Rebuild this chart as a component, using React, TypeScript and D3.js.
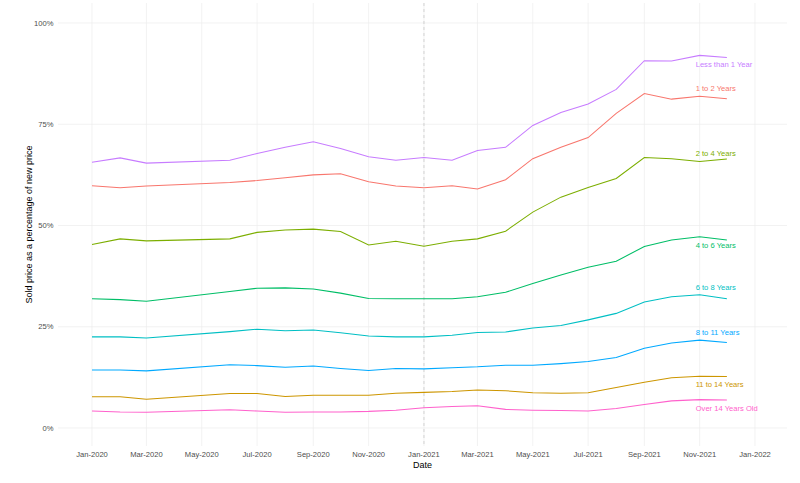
import React from "react";
import * as d3 from "d3";

const months = ["2020-01","2020-02","2020-03","2020-06","2020-07","2020-08","2020-09","2020-10","2020-11","2020-12","2021-01","2021-02","2021-03","2021-04","2021-05","2021-06","2021-07","2021-08","2021-09","2021-10","2021-11","2021-12"];

const seriesNames = ["Less than 1 Year","1 to 2 Years","2 to 4 Years","4 to 6 Years","6 to 8 Years","8 to 11 Years","11 to 14 Years","Over 14 Years Old"];
const seriesColors = ["#C77CFF","#F8766D","#7CAE00","#00BE67","#00BFC4","#00A9FF","#CD9600","#FF61CC"];

const lessThan1 = [65.6,66.7,65.4,66.1,67.8,69.3,70.7,69.0,67.0,66.1,66.8,66.1,68.5,69.3,74.7,77.9,80.0,83.6,90.7,90.6,92.0,91.5];
const oneTo2 = [59.8,59.3,59.75,60.6,61.1,61.8,62.5,62.8,60.8,59.75,59.3,59.8,59.0,61.3,66.5,69.3,71.7,77.7,82.6,81.2,81.9,81.3];
const twoTo4 = [45.3,46.7,46.2,46.7,48.3,48.9,49.1,48.5,45.2,46.1,44.9,46.1,46.7,48.6,53.3,57.0,59.4,61.6,66.8,66.5,65.8,66.4];
const fourTo6 = [31.9,31.7,31.3,33.7,34.5,34.6,34.3,33.3,32.0,31.9,31.9,31.9,32.4,33.5,35.7,37.8,39.7,41.2,44.8,46.4,47.2,46.4];
const sixTo8 = [22.5,22.5,22.2,23.8,24.4,24.0,24.2,23.5,22.7,22.5,22.5,22.9,23.6,23.7,24.7,25.3,26.7,28.3,31.1,32.4,32.9,31.9];
const eightTo11 = [14.3,14.3,14.1,15.6,15.4,15.0,15.3,14.7,14.2,14.7,14.6,14.9,15.1,15.5,15.5,15.9,16.4,17.4,19.7,21.0,21.7,21.1];
const elevenTo14 = [7.7,7.7,7.1,8.5,8.5,7.8,8.1,8.1,8.1,8.6,8.8,9.0,9.4,9.2,8.7,8.6,8.7,10.0,11.3,12.4,12.8,12.7];
const over14 = [4.2,3.95,3.9,4.5,4.2,3.9,3.95,3.95,4.1,4.4,5.0,5.3,5.5,4.6,4.4,4.3,4.2,4.8,5.8,6.7,7.0,6.9];

const seriesValues = [lessThan1, oneTo2, twoTo4, fourTo6, sixTo8, eightTo11, elevenTo14, over14];
const labelValues = [89.8, 83.8, 67.8, 45.2, 34.7, 23.6, 10.9, 4.8];
const labelMonth = "2021-11";

const yTicks = [0, 25, 50, 75, 100];
const xTickMonths = ["2020-01","2020-03","2020-05","2020-07","2020-09","2020-11","2021-01","2021-03","2021-05","2021-07","2021-09","2021-11","2022-01"];
const refLineMonth = "2021-01";

const W = 800, H = 483;
const FONT = "'Liberation Sans', Arial, Helvetica, sans-serif";

export default function App() {
  const parse = d3.timeParse("%Y-%m");
  const fmt = d3.timeFormat("%b-%Y");
  const x = d3.scaleTime().domain([parse("2020-01")!, parse("2022-01")!]).range([92, 755]);
  const y = d3.scaleLinear().domain([0, 100]).range([428, 23]);
  const panel = { left: 58, right: 787, top: 3, bottom: 446 };
  const dates = months.map((m) => parse(m)!);
  const line = d3.line<number>().x((_, i) => x(dates[i])).y((v) => y(v));

  return (
    <svg width={W} height={H} style={{ position: "absolute", left: 0, top: 0, background: "#fff" }} fontFamily={FONT}>
      {yTicks.map((t) => (
        <line key={"gy" + t} x1={panel.left} x2={panel.right} y1={y(t)} y2={y(t)} stroke="#ececec" strokeWidth={0.7} />
      ))}
      {xTickMonths.map((m) => (
        <line key={"gx" + m} x1={x(parse(m)!)} x2={x(parse(m)!)} y1={panel.top} y2={panel.bottom} stroke="#ececec" strokeWidth={0.7} />
      ))}
      <line x1={x(parse(refLineMonth)!)} x2={x(parse(refLineMonth)!)} y1={panel.top} y2={panel.bottom} stroke="#bdbdbd" strokeWidth={0.6} strokeDasharray="3,3" />
      {seriesValues.map((vals, i) => (
        <path key={seriesNames[i]} d={line(vals) || ""} fill="none" stroke={seriesColors[i]} strokeWidth={1.05} />
      ))}
      {seriesNames.map((n, i) => (
        <text key={"l" + n} x={x(parse(labelMonth)!) - 4} y={y(labelValues[i])} dy="0.35em" fontSize={7.6} fill={seriesColors[i]}>
          {n}
        </text>
      ))}
      {yTicks.map((t) => (
        <text key={"yt" + t} x={53.5} y={y(t)} dy="0.35em" textAnchor="end" fontSize={7.6} fill="#4d4d4d">
          {t + "%"}
        </text>
      ))}
      {xTickMonths.map((m) => (
        <text key={"xt" + m} x={x(parse(m)!)} y={454.5} dy="0.35em" textAnchor="middle" fontSize={7.6} fill="#4d4d4d">
          {fmt(parse(m)!)}
        </text>
      ))}
      <text x={(panel.left + panel.right) / 2} y={464.5} dy="0.35em" textAnchor="middle" fontSize={9} fill="#000">Date</text>
      <text transform={`translate(28.5, ${(panel.top + panel.bottom) / 2}) rotate(-90)`} dy="0.35em" textAnchor="middle" fontSize={9} fill="#000">
        Sold price as a percentage of new price
      </text>
    </svg>
  );
}
